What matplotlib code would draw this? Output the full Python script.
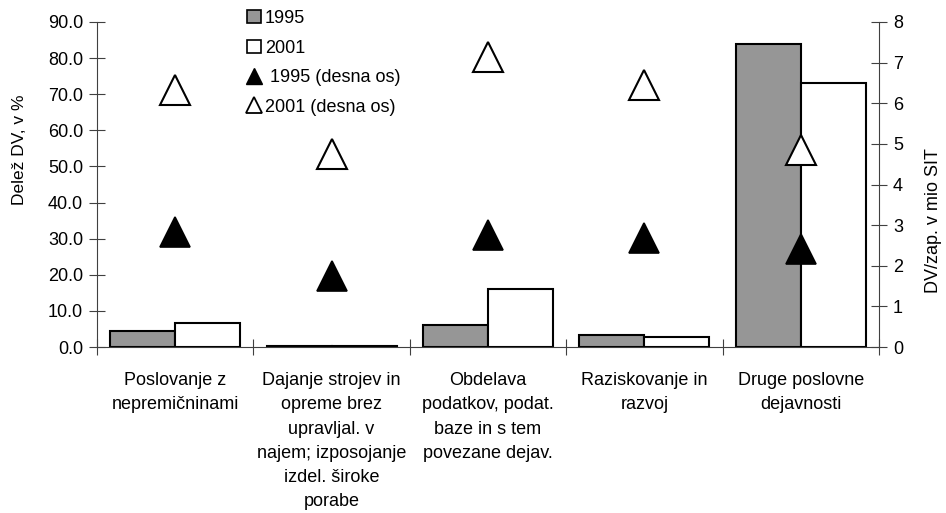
import matplotlib
matplotlib.use("Agg")
import matplotlib.pyplot as plt
from matplotlib.patches import Patch
from matplotlib.lines import Line2D
import numpy as np

plt.rcParams['font.family'] = ['Liberation Sans', 'DejaVu Sans']

categories = [
    "Poslovanje z\nnepremičninami",
    "Dajanje strojev in\nopreme brez\nupravljal. v\nnajem; izposojanje\nizdel. široke\nporabe",
    "Obdelava\npodatkov, podat.\nbaze in s tem\npovezane dejav.",
    "Raziskovanje in\nrazvoj",
    "Druge poslovne\ndejavnosti",
]
share_1995 = [4.3, 0.4, 6.1, 3.3, 84.0]
share_2001 = [6.6, 0.3, 16.2, 2.65, 73.0]
perwork_1995 = [2.82, 1.75, 2.76, 2.68, 2.41]
perwork_2001 = [6.32, 4.74, 7.14, 6.45, 4.84]
left_ticks = [0, 10, 20, 30, 40, 50, 60, 70, 80, 90]
right_ticks = [0, 1, 2, 3, 4, 5, 6, 7, 8]

fig = plt.figure(figsize=(9.46, 5.13), dpi=100)
ax = fig.add_axes([97/946, 1-347/513, (879-97)/946, (347-22)/513])
x = np.arange(len(categories))
w = 0.415
ax.bar(x - w/2, share_1995, width=w, color='#969696', edgecolor='black', linewidth=1.5, zorder=2)
ax.bar(x + w/2, share_2001, width=w, color='white', edgecolor='black', linewidth=1.5, zorder=2)
ax.set_xlim(-0.5, len(categories) - 0.5)
ax.set_ylim(0, 90)
ax.set_yticks(left_ticks)
ax.set_yticklabels([f"{v:.1f}" for v in left_ticks])
ax.set_xticks(x)
ax.set_xticklabels(categories, linespacing=1.56)
ax.set_xticks(np.arange(len(categories) + 1) - 0.5, minor=True)
ax.tick_params(axis='x', which='major', length=0, pad=18, labelsize=13)
ax.tick_params(axis='x', which='minor', direction='inout', length=11, width=0.8, color='#404040')
ax.tick_params(axis='y', direction='inout', length=12, width=0.8, color='#404040', labelsize=13, pad=4)
for s in ['top', 'right']:
    ax.spines[s].set_visible(False)
for s in ['left', 'bottom']:
    ax.spines[s].set_color('#404040')
    ax.spines[s].set_linewidth(0.8)
ax.set_ylabel("Delež DV, v %", fontsize=12.5)
ax.yaxis.set_label_coords(-0.0895, 0.606)

ax2 = ax.twinx()
ax2.plot(x, perwork_1995, linestyle='none', marker='^', markersize=21, color='black',
         markeredgecolor='black', markeredgewidth=1.2, zorder=3)
ax2.plot(x, perwork_2001, linestyle='none', marker='^', markersize=21, markerfacecolor='white',
         markeredgecolor='black', markeredgewidth=1.5, zorder=3)
ax2.set_ylim(0, 8)
ax2.set_yticks(right_ticks)
ax2.set_yticklabels([str(v) for v in right_ticks])
ax2.tick_params(axis='y', direction='inout', length=12, width=0.8, color='#404040', labelsize=13, pad=4)
for s in ['top', 'left', 'bottom']:
    ax2.spines[s].set_visible(False)
ax2.spines['right'].set_color('#404040')
ax2.spines['right'].set_linewidth(0.8)
ax2.set_ylabel("DV/zap. v mio SIT", fontsize=13)
ax2.yaxis.set_label_coords(1.0585, 0.39)

handles = [
    Patch(facecolor='#969696', edgecolor='black', linewidth=1.2),
    Patch(facecolor='white', edgecolor='black', linewidth=1.2),
    Line2D([], [], linestyle='none', marker='^', markersize=11, color='black'),
    Line2D([], [], linestyle='none', marker='^', markersize=11, markerfacecolor='white',
           markeredgecolor='black', markeredgewidth=1.3),
]
labels = ["1995", "2001", " 1995 (desna os)", "2001 (desna os)"]
fig.legend(handles, labels, loc='upper left', bbox_to_anchor=(247/946, 1-10/513),
           frameon=False, fontsize=13, handlelength=0.75, handleheight=0.75,
           handletextpad=0.25, labelspacing=0.7, borderaxespad=0, borderpad=0)

fig.savefig("out.png", dpi=100)
